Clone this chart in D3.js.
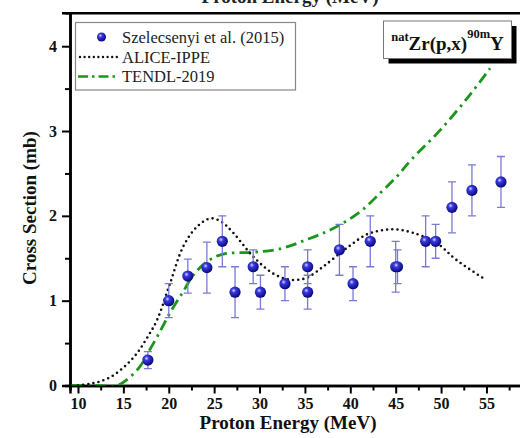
<!DOCTYPE html>
<html><head><meta charset="utf-8">
<script src="https://cdn.jsdelivr.net/npm/d3@7"></script>
<style>
html,body{margin:0;padding:0;background:#fff;}
svg{display:block;font-family:"Liberation Serif","Times New Roman",serif;}
</style></head>
<body>
<svg id="chart" width="520" height="438"></svg>
<script>
// ---- data ----
const expEnergy = [17.7, 20.0, 22.1, 24.2, 25.9, 27.3, 29.3, 30.1, 32.8, 35.3, 35.3, 38.8, 40.3, 42.2, 45.0, 45.2, 48.3, 49.4, 51.2, 53.4, 56.6];
const expValue  = [0.30, 1.00, 1.29, 1.39, 1.70, 1.10, 1.40, 1.10, 1.20, 1.40, 1.10, 1.60, 1.20, 1.70, 1.40, 1.40, 1.70, 1.70, 2.10, 2.30, 2.40];
const expError  = [0.10, 0.20, 0.20, 0.30, 0.30, 0.30, 0.20, 0.20, 0.20, 0.20, 0.20, 0.30, 0.20, 0.30, 0.30, 0.20, 0.30, 0.20, 0.30, 0.30, 0.30];

const aliceEnergy = [10, 11.3, 12.5, 13.9, 15.3, 16.5, 17.6, 18.7, 20.1, 21.6, 23.1, 24.6, 25.8, 27.1, 29.3, 31.5, 33.2, 34.5, 35.4, 37.0, 39.6, 41.8, 43.5, 45.0, 46.9, 49.5, 51.7, 55.0];
const aliceValue  = [0, 0.02, 0.05, 0.12, 0.24, 0.38, 0.56, 0.77, 1.19, 1.64, 1.87, 1.97, 1.93, 1.80, 1.52, 1.32, 1.25, 1.25, 1.28, 1.40, 1.62, 1.78, 1.83, 1.84, 1.80, 1.68, 1.48, 1.24];

const tendlEnergy = [9.3, 12.0, 14.3, 15.4, 16.8, 17.9, 19.0, 20.1, 21.6, 22.7, 24.2, 26.0, 29.3, 32.2, 35.2, 38.1, 41.1, 43.3, 45.1, 46.7, 49.9, 53.2, 55.4];
const tendlValue  = [0, 0, 0, 0.07, 0.22, 0.42, 0.63, 0.85, 1.11, 1.30, 1.46, 1.55, 1.57, 1.61, 1.72, 1.85, 2.05, 2.27, 2.46, 2.66, 3.01, 3.43, 3.74];

const xTicks = [10, 15, 20, 25, 30, 35, 40, 45, 50, 55];
const xMinorTicks = [12.5, 17.5, 22.5, 27.5, 32.5, 37.5, 42.5, 47.5, 52.5, 57.5];
const yTicks = [0, 1, 2, 3, 4];
const yMinorTicks = [0.5, 1.5, 2.5, 3.5];
const legendLabels = ["Szelecsenyi et al. (2015)", "ALICE-IPPE", "TENDL-2019"];

// ---- drawing ----
const svg = d3.select("#chart");
const x = d3.scaleLinear().domain([9.12, 62]).range([70, 550]);
const y = d3.scaleLinear().domain([0, 4.395]).range([385.5, 12.7]);

const green = "#1a961a", errColor = "#7a7ad6";

const defs = svg.append("defs");
const grad = defs.append("radialGradient").attr("id", "sph")
  .attr("cx", "38%").attr("cy", "35%").attr("r", "65%");
grad.append("stop").attr("offset", "0%").attr("stop-color", "#d8d8ff");
grad.append("stop").attr("offset", "30%").attr("stop-color", "#3a3ae0");
grad.append("stop").attr("offset", "100%").attr("stop-color", "#08087a");
const clip = defs.append("clipPath").attr("id", "plotclip");
clip.append("rect").attr("x", 70).attr("y", 12.7).attr("width", 480).attr("height", 372.8);

// cropped title at top
svg.append("text").attr("x", 290).attr("y", 3).attr("text-anchor", "middle")
  .attr("font-weight", "bold").attr("font-size", 19).attr("fill", "#222")
  .text("Proton Energy (MeV)");

// axes
const xAxis = svg.append("g").attr("transform", `translate(0,${y(0)})`)
  .call(d3.axisBottom(x).tickValues(xTicks).tickSize(8).tickPadding(4).tickFormat(d3.format("d")));
const xMinor = svg.append("g").attr("transform", `translate(0,${y(0)})`)
  .call(d3.axisBottom(x).tickValues(xMinorTicks).tickSize(5).tickFormat(""));
const yAxis = svg.append("g").attr("transform", `translate(${x(9.12)},0)`)
  .call(d3.axisLeft(y).tickValues(yTicks).tickSize(8).tickPadding(5).tickFormat(d3.format("d")));
const yMinor = svg.append("g").attr("transform", `translate(${x(9.12)},0)`)
  .call(d3.axisLeft(y).tickValues(yMinorTicks).tickSize(5).tickFormat(""));
[xAxis, xMinor, yAxis, yMinor].forEach(g => {
  g.select(".domain").attr("stroke", "#000").attr("stroke-width", 2.5);
  g.selectAll(".tick line").attr("stroke", "#000").attr("stroke-width", 2);
  g.selectAll(".tick text").attr("font-family", "Liberation Serif, serif")
    .attr("font-weight", "bold").attr("font-size", 16).attr("fill", "#111");
});
const topAxis = svg.append("g").attr("transform", `translate(0,${y(4.395)})`)
  .call(d3.axisTop(x).tickValues([]).tickSizeOuter(0));
topAxis.select(".domain").attr("stroke", "#000").attr("stroke-width", 2.5);

// axis titles
svg.append("text").attr("x", 288).attr("y", 429).attr("text-anchor", "middle")
  .attr("font-weight", "bold").attr("font-size", 19).attr("fill", "#111")
  .text("Proton Energy (MeV)");
svg.append("text").attr("transform", "translate(36,208) rotate(-90)")
  .attr("text-anchor", "middle").attr("font-weight", "bold").attr("font-size", 19).attr("fill", "#111")
  .text("Cross Section (mb)");

const plot = svg.append("g").attr("clip-path", "url(#plotclip)");

// model curves
const line = d3.line().x(d => x(d[0])).y(d => y(d[1])).curve(d3.curveCatmullRom);
plot.append("path").datum(tendlEnergy.map((e, i) => [e, tendlValue[i]]))
  .attr("d", line).attr("fill", "none").attr("stroke", green).attr("stroke-width", 2.8)
  .attr("stroke-dasharray", "11 5 2.5 5");
plot.append("path").datum(aliceEnergy.map((e, i) => [e, aliceValue[i]]))
  .attr("d", line).attr("fill", "none").attr("stroke", "#111").attr("stroke-width", 2.6)
  .attr("stroke-linecap", "round").attr("stroke-dasharray", "0 5.2");

// error bars
const pts = expEnergy.map((e, i) => ({e, v: expValue[i], err: expError[i]}));
const eb = plot.append("g").attr("stroke", errColor).attr("stroke-width", 1.3);
pts.forEach(p => {
  eb.append("line").attr("x1", x(p.e)).attr("x2", x(p.e)).attr("y1", y(p.v - p.err)).attr("y2", y(p.v + p.err));
  eb.append("line").attr("x1", x(p.e) - 4).attr("x2", x(p.e) + 4).attr("y1", y(p.v - p.err)).attr("y2", y(p.v - p.err));
  eb.append("line").attr("x1", x(p.e) - 4).attr("x2", x(p.e) + 4).attr("y1", y(p.v + p.err)).attr("y2", y(p.v + p.err));
});
plot.append("g").selectAll("circle").data(pts).join("circle")
  .attr("cx", d => x(d.e)).attr("cy", d => y(d.v)).attr("r", 5.6).attr("fill", "url(#sph)");

// legend
const lg = svg.append("g");
lg.append("rect").attr("x", 75.5).attr("y", 22.5).attr("width", 220).attr("height", 67.5)
  .attr("fill", "#fff").attr("stroke", "#888").attr("stroke-width", 1.2);
lg.append("circle").attr("cx", 101.5).attr("cy", 37).attr("r", 4.5).attr("fill", "url(#sph)");
lg.append("line").attr("x1", 80).attr("x2", 118).attr("y1", 57).attr("y2", 57)
  .attr("stroke", "#111").attr("stroke-width", 2.4).attr("stroke-linecap", "round").attr("stroke-dasharray", "0 4.6");
lg.append("line").attr("x1", 78).attr("x2", 119).attr("y1", 76.5).attr("y2", 76.5)
  .attr("stroke", green).attr("stroke-width", 2.6).attr("stroke-dasharray", "10 4 2.5 4");
legendLabels.forEach((t, i) => {
  lg.append("text").attr("x", 122).attr("y", 43 + i * 19.5).attr("font-size", 16.5).attr("fill", "#222").text(t);
});

// reaction label box
const rb = svg.append("g");
rb.append("rect").attr("x", 388.5).attr("y", 26).attr("width", 128).attr("height", 37.5).attr("fill", "#000");
rb.append("rect").attr("x", 383.5).attr("y", 21).attr("width", 128).attr("height", 37.5)
  .attr("fill", "#fff").attr("stroke", "#777").attr("stroke-width", 1);
const lt = rb.append("text").attr("x", 447.5).attr("y", 50).attr("text-anchor", "middle")
  .attr("font-weight", "bold").attr("fill", "#111");
lt.append("tspan").attr("font-size", 12.5).attr("dy", -9).text("nat");
lt.append("tspan").attr("font-size", 19).attr("dy", 9).text("Zr(p,x)");
lt.append("tspan").attr("font-size", 12.5).attr("dy", -12).text("90m");
lt.append("tspan").attr("font-size", 19).attr("dy", 12).text("Y");
</script>
</body></html>
